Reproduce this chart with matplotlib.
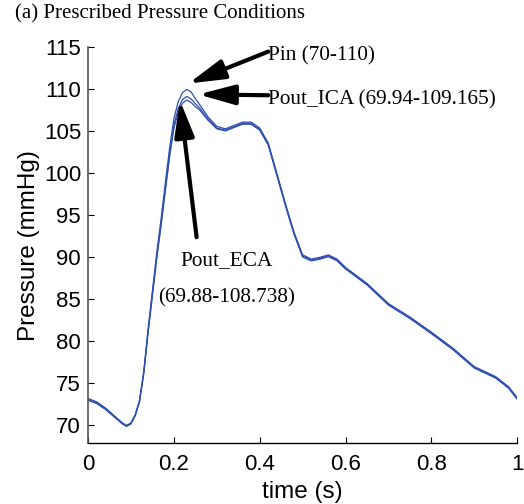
import numpy as np
import matplotlib
matplotlib.use('Agg')
import matplotlib.pyplot as plt

# time (s) and pressures (mmHg)
t = [0, 0.02, 0.04, 0.06, 0.08, 0.09, 0.10, 0.11, 0.12, 0.13, 0.14, 0.15, 0.16,
     0.17, 0.18, 0.19, 0.20, 0.21, 0.22, 0.23, 0.24, 0.25, 0.26, 0.28, 0.30,
     0.32, 0.34, 0.36, 0.38, 0.40, 0.42, 0.44, 0.46, 0.48, 0.50, 0.52, 0.54,
     0.56, 0.58, 0.60, 0.65, 0.70, 0.75, 0.80, 0.85, 0.90, 0.95, 0.98, 1.00]

p_in = [73.2, 72.8, 72.1, 71.2, 70.3, 70.0, 70.3, 71.3, 73.0, 76.5, 81.5, 86.0,
        90.5, 94.5, 98.8, 103.0, 106.5, 108.5, 109.6, 110.0, 109.7, 108.9, 108.2,
        106.7, 105.6, 105.3, 105.7, 106.1, 106.1, 105.4, 103.6, 100.0, 96.4, 93.0,
        90.3, 89.8, 90.0, 90.3, 89.8, 88.8, 86.9, 84.5, 82.9, 81.1, 79.2, 77.0,
        75.8, 74.6, 73.3]

p_ica = [73.08, 72.69, 72.00, 71.12, 70.23, 69.94, 70.24, 71.22, 72.88, 76.31,
         81.22, 85.63, 90.04, 93.97, 98.18, 102.30, 105.73, 107.69, 108.77,
         109.165, 108.87, 108.30, 107.80, 106.45, 105.40, 105.15, 105.55, 105.95,
         105.95, 105.25, 103.45, 99.85, 96.25, 92.85, 90.15, 89.68, 89.88, 90.18,
         89.68, 88.70, 86.80, 84.40, 82.80, 81.00, 79.10, 76.90, 75.70, 74.50,
         73.20]

p_eca = [72.99, 72.60, 71.92, 71.05, 70.17, 69.88, 70.17, 71.14, 72.79, 76.19,
         81.05, 85.42, 89.79, 93.67, 97.85, 101.93, 105.33, 107.27, 108.34,
         108.738, 108.44, 107.95, 107.55, 106.30, 105.30, 105.05, 105.45, 105.85,
         105.85, 105.15, 103.35, 99.75, 96.15, 92.75, 90.05, 89.58, 89.78, 90.08,
         89.60, 88.62, 86.72, 84.32, 82.72, 80.92, 79.02, 76.82, 75.62, 74.42,
         73.12]

serif = ['Liberation Serif', 'DejaVu Serif']
sans = ['Liberation Sans', 'DejaVu Sans']

fig = plt.figure(figsize=(5.24, 5.04), dpi=100)
ax = fig.add_axes([0.168, 0.121, 0.819, 0.785])

line_col = '#2f4fb0'
ax.plot(t, p_in, color=line_col, lw=0.9)
ax.plot(t, p_ica, color=line_col, lw=0.9)
ax.plot(t, p_eca, color=line_col, lw=0.9)

ax.set_xlim(0, 1)
ax.set_ylim(67.9, 115)
ax.set_xticks([0, 0.2, 0.4, 0.6, 0.8, 1])
ax.set_xticklabels(['0', '0.2', '0.4', '0.6', '0.8', '1'])
ax.set_yticks(np.arange(70, 116, 5))
ax.tick_params(direction='in', length=4, labelsize=16)
ax.tick_params(axis='x', pad=8)
ax.tick_params(axis='y', pad=5)
for lab in ax.get_xticklabels() + ax.get_yticklabels():
    lab.set_family(sans)
ax.spines['top'].set_visible(False)
ax.spines['right'].set_visible(False)
ax.spines['left'].set_color('#555555')
ax.spines['left'].set_linewidth(1.2)
ax.spines['bottom'].set_linewidth(1.0)

ax.set_xlabel('time (s)', fontsize=17.5, family=sans, labelpad=4)
ax.set_ylabel('Pressure (mmHg)', fontsize=17.5, family=sans, labelpad=3)

arrow = dict(arrowstyle='-|>,head_length=1.1,head_width=0.3', lw=3,
             color='black', mutation_scale=20, shrinkA=0, shrinkB=0)

ax.annotate('', xy=(0.234, 110.7), xytext=(0.420, 114.5), arrowprops=arrow)
ax.annotate('', xy=(0.257, 109.4), xytext=(0.420, 109.3), arrowprops=arrow)
ax.annotate('', xy=(0.214, 108.7), xytext=(0.253, 92.4), arrowprops=arrow)

ann_fs = 15.3
ax.text(0.420, 113.96, 'Pin (70-110)', family=serif, fontsize=ann_fs,
        ha='left', va='center')
ax.text(0.420, 108.73, 'Pout_ICA (69.94-109.165)', family=serif, fontsize=ann_fs,
        ha='left', va='center')
ax.text(0.322, 89.6, 'Pout_ECA', family=serif, fontsize=ann_fs,
        ha='center', va='center')
ax.text(0.322, 85.2, '(69.88-108.738)', family=serif, fontsize=ann_fs,
        ha='center', va='center')

fig.text(0.028, 0.972, '(a) Prescribed Pressure Conditions', family=serif,
         fontsize=15, ha='left', va='center')

fig.savefig('out.png', dpi=100)
